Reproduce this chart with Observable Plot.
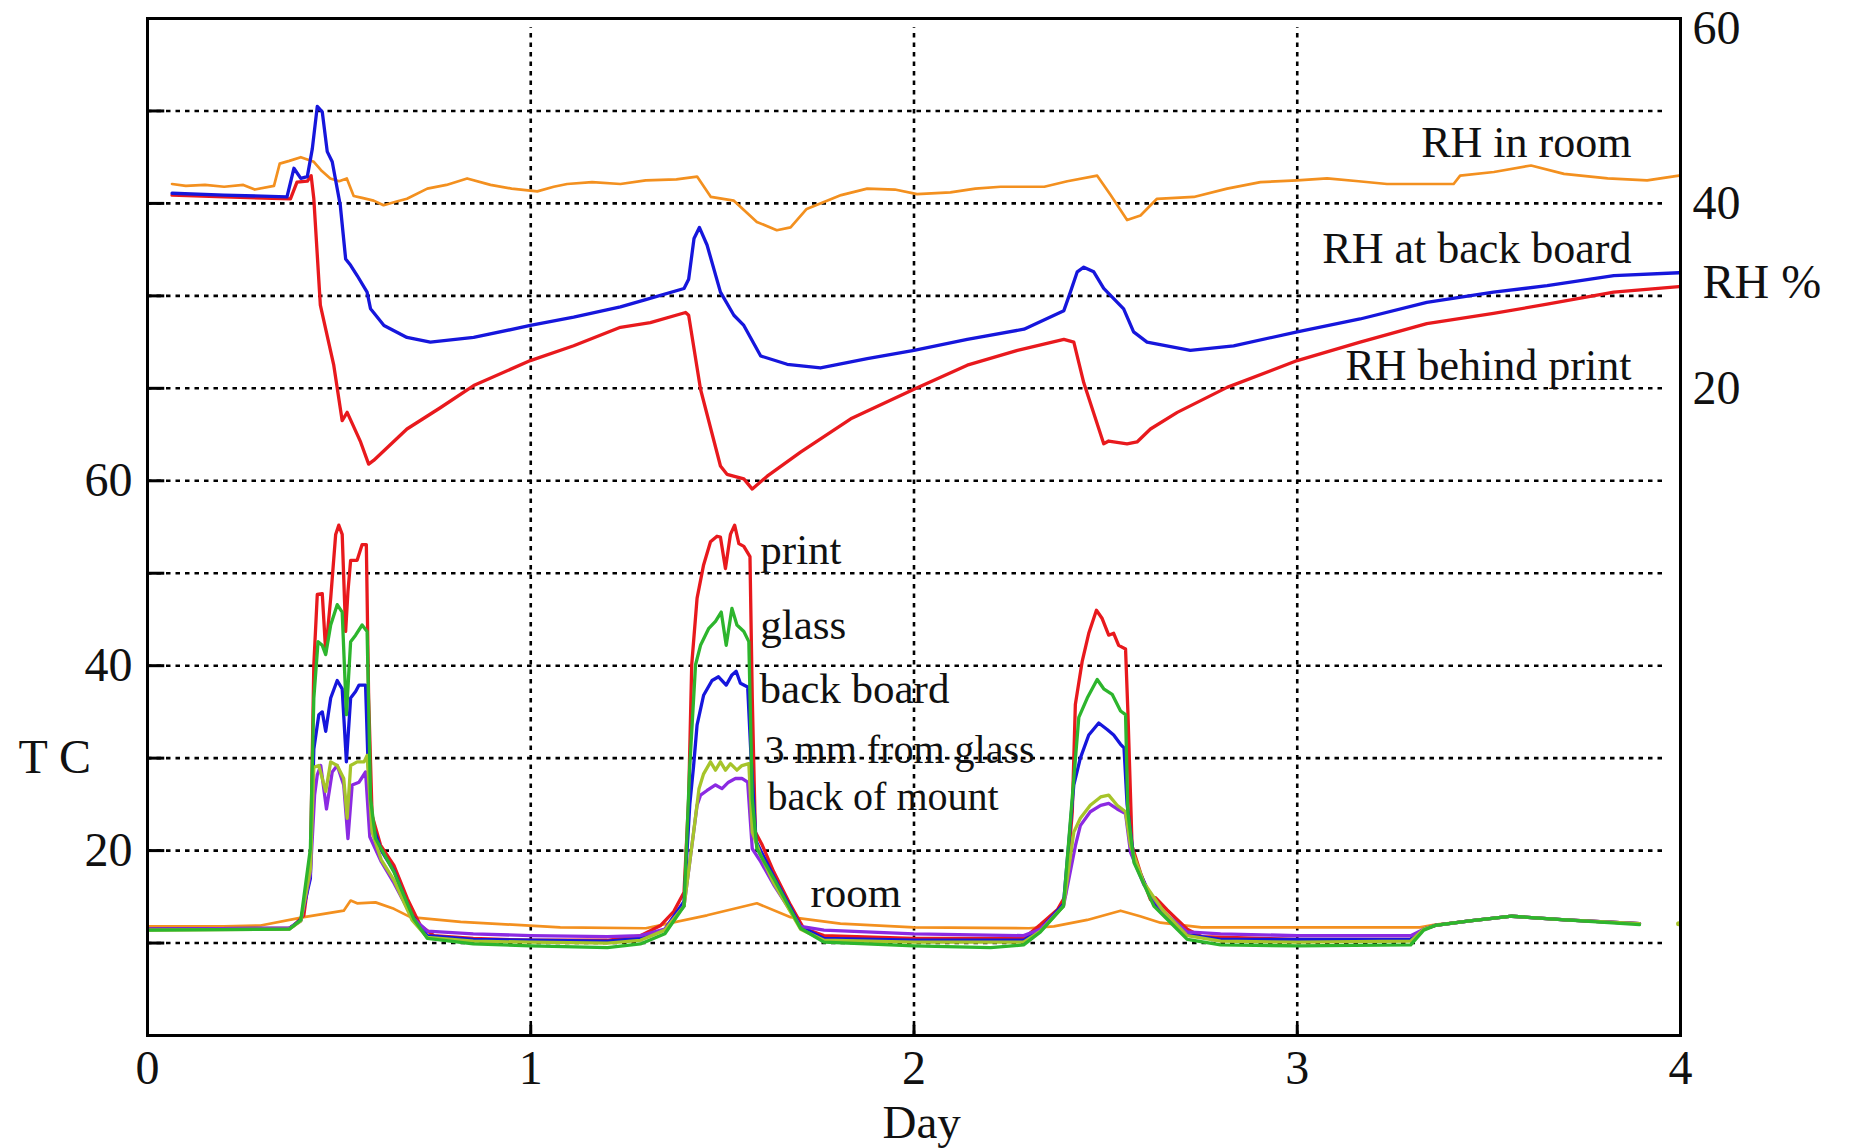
<!DOCTYPE html>
<html>
<head>
<meta charset="utf-8">
<script src="https://cdn.jsdelivr.net/npm/d3@7"></script>
<script src="https://cdn.jsdelivr.net/npm/@observablehq/plot@0.6"></script>
<style>
html, body { margin: 0; padding: 0; background: #fff; }
#chart svg { display: block; }
</style>
</head>
<body>
<div id="chart"></div>
<script>
// ---- data: [day, value] ----
// Relative humidity (%)
const rhRoom = [[0.064,42.1],[0.10,41.9],[0.15,42.0],[0.20,41.8],[0.25,42.0],[0.28,41.5],[0.33,41.9],[0.345,44.3],[0.37,44.6],[0.40,45.0],[0.434,44.5],[0.455,43.5],[0.477,42.7],[0.50,42.4],[0.52,42.7],[0.538,40.8],[0.56,40.6],[0.59,40.3],[0.616,39.8],[0.65,40.2],[0.677,40.5],[0.73,41.6],[0.78,42.0],[0.834,42.7],[0.895,42.0],[0.95,41.6],[1.017,41.3],[1.06,41.8],[1.095,42.1],[1.16,42.3],[1.234,42.1],[1.30,42.5],[1.38,42.6],[1.434,42.9],[1.47,40.7],[1.53,40.3],[1.59,38.0],[1.642,37.1],[1.678,37.4],[1.72,39.4],[1.81,40.9],[1.878,41.6],[1.95,41.5],[2.008,41.0],[2.095,41.2],[2.16,41.6],[2.226,41.8],[2.34,41.8],[2.40,42.4],[2.478,43.0],[2.513,40.9],[2.556,38.2],[2.591,38.7],[2.634,40.5],[2.73,40.7],[2.817,41.6],[2.904,42.3],[3.0,42.5],[3.078,42.7],[3.16,42.4],[3.234,42.1],[3.408,42.1],[3.425,43.0],[3.513,43.4],[3.61,44.1],[3.696,43.2],[3.81,42.7],[3.913,42.5],[3.996,43.0]];
const rhBackBoard = [[0.064,41.1],[0.20,40.9],[0.364,40.7],[0.382,43.8],[0.40,42.7],[0.417,42.9],[0.43,45.9],[0.443,50.5],[0.456,49.9],[0.469,45.6],[0.482,44.5],[0.503,39.8],[0.517,34.0],[0.53,33.3],[0.547,32.2],[0.573,30.4],[0.582,28.6],[0.617,26.8],[0.677,25.5],[0.738,25.0],[0.851,25.5],[0.999,26.8],[1.112,27.7],[1.234,28.8],[1.30,29.6],[1.40,30.8],[1.412,31.8],[1.426,36.2],[1.44,37.4],[1.46,35.5],[1.495,30.4],[1.53,27.9],[1.556,26.8],[1.60,23.5],[1.669,22.6],[1.756,22.2],[1.878,23.2],[2.0,24.1],[2.139,25.3],[2.287,26.4],[2.391,28.4],[2.408,30.4],[2.426,32.6],[2.443,33.1],[2.469,32.6],[2.495,30.8],[2.547,28.6],[2.573,26.1],[2.608,25.0],[2.721,24.1],[2.834,24.6],[3.0,26.1],[3.164,27.5],[3.338,29.3],[3.512,30.4],[3.652,31.1],[3.826,32.2],[3.996,32.5]];
const rhBehindPrint = [[0.064,40.9],[0.20,40.7],[0.373,40.5],[0.39,42.3],[0.417,42.4],[0.427,43.0],[0.434,40.5],[0.451,29.0],[0.486,22.5],[0.508,16.5],[0.521,17.4],[0.556,14.2],[0.577,11.8],[0.59,12.2],[0.677,15.6],[0.764,17.9],[0.851,20.3],[0.999,23.0],[1.112,24.6],[1.234,26.6],[1.312,27.1],[1.404,28.2],[1.412,27.9],[1.443,19.9],[1.495,11.6],[1.512,10.7],[1.556,10.2],[1.578,9.1],[1.617,10.5],[1.704,13.1],[1.835,16.7],[2.0,19.9],[2.139,22.5],[2.27,24.1],[2.391,25.3],[2.417,25.0],[2.443,20.6],[2.495,14.0],[2.508,14.3],[2.556,14.0],[2.582,14.2],[2.617,15.6],[2.687,17.4],[2.817,20.1],[3.0,23.0],[3.164,25.0],[3.338,27.0],[3.512,28.1],[3.652,29.1],[3.826,30.4],[3.996,31.0]];

// Temperature (C)
const tPrint = [[0.005,11.5],[0.20,11.5],[0.37,11.6],[0.382,11.9],[0.408,13.0],[0.425,18.4],[0.434,40.1],[0.443,47.7],[0.456,47.8],[0.465,41.5],[0.478,47.3],[0.491,54.2],[0.499,55.2],[0.508,54.2],[0.517,43.7],[0.523,48.0],[0.53,51.4],[0.547,51.4],[0.56,53.1],[0.571,53.1],[0.577,36.5],[0.586,23.8],[0.608,20.6],[0.643,18.4],[0.678,14.8],[0.712,11.9],[0.747,10.8],[0.85,10.5],[1.0,10.3],[1.20,10.3],[1.286,10.8],[1.339,11.9],[1.373,13.4],[1.40,15.5],[1.412,25.6],[1.42,40.1],[1.434,47.3],[1.451,50.9],[1.469,53.4],[1.486,54.0],[1.495,53.9],[1.508,50.5],[1.521,54.2],[1.532,55.2],[1.543,53.2],[1.556,52.9],[1.572,51.8],[1.578,36.5],[1.586,22.0],[1.604,20.6],[1.634,17.7],[1.678,14.1],[1.712,11.6],[1.765,10.8],[2.0,10.5],[2.286,10.5],[2.33,12.0],[2.374,13.6],[2.395,15.1],[2.413,24.2],[2.421,35.8],[2.439,40.5],[2.456,43.5],[2.476,46.0],[2.491,45.1],[2.508,43.3],[2.521,43.5],[2.534,42.2],[2.552,41.8],[2.558,35.1],[2.569,20.5],[2.591,17.6],[2.617,14.7],[2.63,14.9],[2.66,13.6],[2.713,11.5],[2.75,10.7],[3.0,10.4],[3.296,10.4],[3.33,11.5],[3.36,11.9],[3.45,12.4],[3.56,12.9],[3.70,12.5],[3.893,12.1]];
const tGlass = [[0.005,11.4],[0.37,11.5],[0.40,12.5],[0.425,20.2],[0.434,36.5],[0.445,42.6],[0.456,42.2],[0.465,41.2],[0.478,44.4],[0.495,46.6],[0.508,45.8],[0.519,34.7],[0.53,42.6],[0.543,43.3],[0.56,44.4],[0.573,43.7],[0.582,25.6],[0.595,21.3],[0.643,17.7],[0.695,12.6],[0.73,10.5],[0.85,9.9],[1.0,9.7],[1.20,9.5],[1.286,9.9],[1.35,11.0],[1.40,14.0],[1.415,29.2],[1.43,40.1],[1.443,42.2],[1.464,44.0],[1.482,44.8],[1.497,45.8],[1.51,42.2],[1.525,46.2],[1.538,44.4],[1.556,43.7],[1.569,42.6],[1.578,25.6],[1.59,20.2],[1.634,17.0],[1.704,11.6],[1.765,10.1],[2.0,9.7],[2.2,9.5],[2.286,9.8],[2.33,11.2],[2.39,14.0],[2.417,27.8],[2.43,34.4],[2.452,36.5],[2.478,38.5],[2.495,37.5],[2.517,36.9],[2.539,35.1],[2.552,34.7],[2.558,24.2],[2.574,18.7],[2.626,14.0],[2.713,10.4],[2.8,9.8],[3.0,9.7],[3.296,9.8],[3.33,11.4],[3.36,11.9],[3.45,12.4],[3.56,12.9],[3.70,12.5],[3.893,12.0]];
const tBackBoard = [[0.005,11.5],[0.37,11.6],[0.40,12.5],[0.425,17.0],[0.434,31.0],[0.447,34.7],[0.456,35.0],[0.465,32.9],[0.478,36.5],[0.495,38.4],[0.508,37.5],[0.519,29.6],[0.53,36.5],[0.543,37.2],[0.552,37.9],[0.569,37.9],[0.575,30.0],[0.585,23.0],[0.61,20.0],[0.643,17.8],[0.69,13.0],[0.73,10.8],[0.85,10.4],[1.0,10.3],[1.2,10.2],[1.286,10.5],[1.35,11.5],[1.40,14.5],[1.415,25.0],[1.425,29.2],[1.434,33.6],[1.451,36.8],[1.473,38.4],[1.49,38.8],[1.51,37.9],[1.525,39.0],[1.536,39.4],[1.547,38.1],[1.566,37.7],[1.575,30.0],[1.588,21.0],[1.634,17.2],[1.704,11.8],[1.765,10.5],[2.0,10.3],[2.286,10.3],[2.33,11.5],[2.39,14.2],[2.417,27.1],[2.434,30.0],[2.456,32.5],[2.482,33.8],[2.504,33.1],[2.521,32.5],[2.539,31.5],[2.548,31.1],[2.556,25.0],[2.574,19.0],[2.626,14.3],[2.713,10.9],[2.8,10.4],[3.0,10.4],[3.296,10.4],[3.33,11.5],[3.36,11.9],[3.45,12.4],[3.56,12.9],[3.70,12.5],[3.893,12.1]];
const tThreeMm = [[0.005,11.4],[0.37,11.5],[0.40,12.4],[0.425,18.0],[0.434,29.0],[0.447,29.2],[0.465,26.4],[0.478,29.6],[0.495,29.2],[0.512,27.8],[0.521,23.5],[0.53,29.2],[0.547,29.6],[0.565,29.6],[0.573,30.3],[0.586,22.0],[0.61,19.0],[0.643,16.8],[0.69,12.5],[0.73,10.6],[0.85,10.2],[1.0,10.1],[1.2,10.0],[1.286,10.3],[1.35,11.4],[1.40,14.0],[1.425,22.0],[1.439,26.7],[1.451,28.3],[1.469,29.6],[1.482,28.7],[1.495,29.6],[1.508,28.7],[1.521,29.4],[1.538,28.7],[1.551,29.2],[1.569,29.4],[1.578,22.0],[1.60,19.5],[1.634,16.5],[1.704,11.5],[1.765,10.3],[2.0,10.1],[2.286,10.1],[2.33,11.3],[2.39,14.0],[2.417,22.0],[2.434,23.5],[2.46,24.9],[2.487,25.8],[2.508,26.0],[2.53,24.9],[2.552,24.2],[2.565,20.5],[2.60,16.5],[2.65,13.5],[2.713,10.8],[2.8,10.2],[3.0,10.1],[3.296,10.2],[3.33,11.5],[3.36,11.9],[3.45,12.4],[3.56,12.9],[3.70,12.5],[3.893,12.1]];
const tBackMount = [[0.005,11.5],[0.37,11.6],[0.40,12.4],[0.425,17.5],[0.436,26.0],[0.443,28.2],[0.452,29.2],[0.467,24.5],[0.482,28.5],[0.495,29.2],[0.512,27.1],[0.523,21.3],[0.534,27.1],[0.552,27.4],[0.569,28.5],[0.58,21.5],[0.61,18.8],[0.643,16.5],[0.69,12.8],[0.73,11.3],[0.85,11.0],[1.0,10.8],[1.2,10.7],[1.286,10.8],[1.35,11.5],[1.40,14.0],[1.425,22.0],[1.434,24.9],[1.443,26.0],[1.46,26.5],[1.482,27.1],[1.499,26.7],[1.516,27.4],[1.534,27.8],[1.551,27.8],[1.566,27.4],[1.578,20.2],[1.60,18.8],[1.634,16.3],[1.704,11.8],[1.765,11.4],[2.0,11.0],[2.286,10.8],[2.33,11.5],[2.39,14.0],[2.421,20.5],[2.434,22.7],[2.46,24.2],[2.487,24.9],[2.508,25.1],[2.53,24.5],[2.552,24.0],[2.565,19.8],[2.60,16.3],[2.65,13.4],[2.713,11.2],[2.8,11.0],[3.0,10.8],[3.296,10.8],[3.33,11.5],[3.36,11.9],[3.45,12.4],[3.56,12.9],[3.70,12.5],[3.893,12.1]];
const tRoom = [[0.005,11.8],[0.20,11.8],[0.295,11.9],[0.408,12.8],[0.512,13.5],[0.53,14.6],[0.547,14.3],[0.595,14.4],[0.643,13.7],[0.686,12.8],[0.817,12.3],[1.077,11.7],[1.30,11.6],[1.46,13.0],[1.59,14.3],[1.678,12.8],[1.808,12.1],[2.0,11.7],[2.30,11.6],[2.365,11.8],[2.452,12.5],[2.539,13.5],[2.59,12.9],[2.643,12.2],[2.75,11.7],[3.0,11.7],[3.32,11.7],[3.36,12.0],[3.45,12.4],[3.56,12.9],[3.70,12.5],[3.893,12.1]];
const tRoomTail = [[3.995,12.1]];

// ---- ticks and labels ----
const dayTicks = [0, 1, 2, 3, 4];
const gridDays = [1, 2, 3];
const tTicks = [20, 40, 60];
const gridT = [10, 20, 30, 40, 50, 60, 70, 80, 90, 100];
const rhTicks = [20, 40, 60];
const rhOffset = 50; // RH axis: RH = T - 50 on the shared vertical scale

const rhLabels = ["RH in room", "RH at back board", "RH behind print"];
const rhLabelDay = [3.872, 3.872, 3.872];
const rhLabelRH = [45.0, 33.6, 20.85];

const tLabels = ["print", "glass", "back board", "3 mm from glass", "back of mount", "room"];
const tLabelDay = [1.599, 1.599, 1.597, 1.610, 1.618, 1.730];
const tLabelT = [51.0, 42.9, 36.0, 29.5, 24.4, 13.85];
const tightLabels = ["3 mm from glass", "back of mount"];

const colRed = "#e8191d", colBlue = "#1616dc", colOrange = "#f3901f",
      colGreen = "#2db52d", colYellow = "#a6c42a", colPurple = "#8b2ae2";

const toPts = (arr, off = 0) => arr.map(([d, v]) => ({day: d, v: v + off}));
const FONT = "'Liberation Serif', 'Times New Roman', serif";
const tLabelData = tLabels.map((t, i) => ({t, day: tLabelDay[i], v: tLabelT[i]}));

const chart = Plot.plot({
  width: 1849,
  height: 1148,
  marginLeft: 147,
  marginRight: 169,
  marginTop: 18,
  marginBottom: 113,
  x: {domain: [0, 4]},
  y: {domain: [0, 110]},
  style: {fontFamily: FONT, background: "#fff", color: "#111"},
  marks: [
    // dotted grid
    Plot.ruleY(gridT, {x1: 0, x2: 3.96, stroke: "#000", strokeWidth: 2.6, strokeDasharray: "4.5,5"}),
    Plot.ruleX(gridDays, {y1: 0, y2: 109, stroke: "#000", strokeWidth: 2.6, strokeDasharray: "4.5,5"}),
    // inward ticks
    Plot.ruleY(gridT, {x1: 0, x2: 0.045, stroke: "#000", strokeWidth: 3}),
    Plot.ruleX(gridDays, {y1: 0, y2: 1.1, stroke: "#000", strokeWidth: 3}),

    // RH lines
    Plot.line(toPts(rhRoom, rhOffset), {x: "day", y: "v", stroke: colOrange, strokeWidth: 2.7}),
    Plot.line(toPts(rhBehindPrint, rhOffset), {x: "day", y: "v", stroke: colRed, strokeWidth: 3.3}),
    Plot.line(toPts(rhBackBoard, rhOffset), {x: "day", y: "v", stroke: colBlue, strokeWidth: 3.3}),

    // temperature lines
    Plot.line(toPts(tRoom), {x: "day", y: "v", stroke: colOrange, strokeWidth: 2.7}),
    Plot.dot(toPts(tRoomTail), {x: "day", y: "v", fill: colYellow, r: 2.5}),
    Plot.line(toPts(tPrint), {x: "day", y: "v", stroke: colRed, strokeWidth: 3.3}),
    Plot.line(toPts(tBackBoard), {x: "day", y: "v", stroke: colBlue, strokeWidth: 3.3}),
    Plot.line(toPts(tBackMount), {x: "day", y: "v", stroke: colPurple, strokeWidth: 3.3}),
    Plot.line(toPts(tThreeMm), {x: "day", y: "v", stroke: colYellow, strokeWidth: 3.3}),
    Plot.line(toPts(tGlass), {x: "day", y: "v", stroke: colGreen, strokeWidth: 3.3}),

    Plot.frame({stroke: "#000", strokeWidth: 3}),

    // axes
    Plot.axisX({ticks: dayTicks, tickSize: 0, tickPadding: 14, fontSize: 48, label: null, tickFormat: d => String(d)}),
    Plot.axisY({anchor: "left", ticks: tTicks, tickSize: 0, tickPadding: 15, fontSize: 48, label: null}),
    Plot.text(rhTicks.filter(v => v < 60), {x: 4, y: v => v + rhOffset, text: v => String(v), dx: 12, textAnchor: "start", fontSize: 48}),
    Plot.text(rhTicks.filter(v => v >= 60), {x: 4, y: v => v + rhOffset, text: v => String(v), dx: 12, dy: 10, textAnchor: "start", fontSize: 48}),
    Plot.text(["RH %"], {x: 4, y: 79.8, dx: 22, textAnchor: "start", lineAnchor: "bottom", fontSize: 48}),
    Plot.text(["T C"], {x: 0, y: 28.4, dx: -129, textAnchor: "start", lineAnchor: "bottom", fontSize: 48}),
    Plot.text(["Day"], {x: 2.02, y: 0, dy: 102, lineAnchor: "bottom", fontSize: 47}),

    // series labels
    Plot.text(rhLabels, {x: (d, i) => rhLabelDay[i], y: (d, i) => rhLabelRH[i] + rhOffset, text: d => d, textAnchor: "end", lineAnchor: "bottom", fontSize: 44}),
    Plot.text(tLabelData.filter(d => !tightLabels.includes(d.t)), {x: "day", y: "v", text: "t", textAnchor: "start", lineAnchor: "bottom", fontSize: 43}),
    Plot.text(tLabelData.filter(d => tightLabels.includes(d.t)), {x: "day", y: "v", text: "t", textAnchor: "start", lineAnchor: "bottom", fontSize: 40})
  ]
});
document.getElementById("chart").appendChild(chart);
</script>
</body>
</html>
